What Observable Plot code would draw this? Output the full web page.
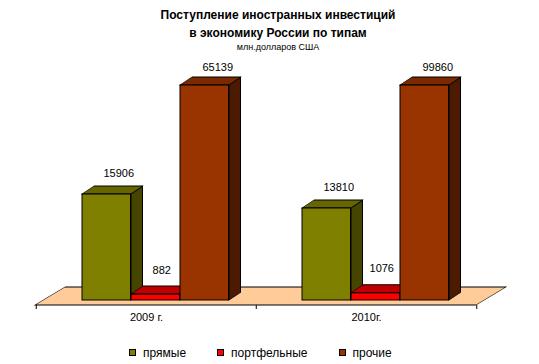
<!DOCTYPE html>
<html>
<head>
<meta charset="utf-8">
<script src="https://cdn.jsdelivr.net/npm/d3@7"></script>
<script src="https://cdn.jsdelivr.net/npm/@observablehq/plot@0.6"></script>
<style>
  body { margin: 0; background: #fff; font-family: "Liberation Sans", Arial, sans-serif; }
  #title { width: 539px; height: 56px; box-sizing: border-box; padding-top: 6px; padding-left: 17px; text-align: center; color: #000; }
  #title .t1 { font-weight: bold; font-size: 12px; line-height: 18px; }
  #title .t2 { font-size: 9px; line-height: 10px; }
  #chart { width: 539px; height: 274px; }
  #legend { width: 539px; height: 34px; box-sizing: border-box; padding-top: 11px; padding-left: 129px; font-size: 12px; line-height: 14px; display: flex; align-items: center; color: #000; }
  #legend .item { display: flex; align-items: center; margin-right: 31px; }
  #legend .sw { width: 7px; height: 7px; box-sizing: border-box; border: 1px solid #000; margin-right: 7px; }
</style>
</head>
<body>
<div id="title">
  <div class="t1">Поступление иностранных инвестиций<br>в экономику России по типам</div>
  <div class="t2">млн.долларов США</div>
</div>
<div id="chart"></div>
<div id="legend"></div>
<script>
// ---- data ----
const years = ["2009 г.", "2010г."];
const types = ["прямые", "портфельные", "прочие"];
const direct = [15906, 13810];
const portfolio = [882, 1076];
const other = [65139, 99860];

// ---- styles ----
const frontColors = ["#808000", "#FF0000", "#993300"];
const topColors = ["#666600", "#C00000", "#7A2900"];
const sideColors = ["#454500", "#900000", "#4C1A00"];
const labelDx = [12, 6, 13];
const labelDy = [-21.5, -24.5, -18.5];

const series = [direct, portfolio, other];
const rows = [];
types.forEach((t, k) => years.forEach((y, i) => rows.push({year: y, type: t, k, value: series[k][i]})));

// ---- layout ----
const W = 539, H = 274;
const mL = 35, mR = 63, mT = 29, mB = 30;
const band = (W - mL - mR) / years.length;
const barOff = 46, barW = 49, depX = 12, depY = 8;

const marks = [];
// floor
marks.push(Plot.frame({fill: "#FFCC99", stroke: "#000", strokeWidth: 1, insetTop: (H - mT - mB) - 13, insetBottom: -5}));
// category boundary ticks
marks.push(Plot.ruleX(years, {x: d => d, dx: -band / 2, insetTop: (H - mT - mB) + 5, insetBottom: -9, stroke: "#000"}));
marks.push(Plot.ruleX(years.slice(-1), {x: d => d, dx: band / 2, insetTop: (H - mT - mB) + 5, insetBottom: -9, stroke: "#000"}));
// side faces (bar groups 0..2)
types.forEach((t, k) => {
  const left = barOff + barW * (k + 1);
  marks.push(Plot.barY(rows.filter(d => d.k === k), {x: "year", y: "value", fill: sideColors[k], stroke: "#000", strokeWidth: 1,
    insetLeft: left, insetRight: band - left - depX}));
});
// top faces (bar groups 3..5)
types.forEach((t, k) => {
  const left = barOff + barW * k;
  marks.push(Plot.barY(rows.filter(d => d.k === k), {x: "year", y1: "value", y2: "value", fill: topColors[k], stroke: "#000", strokeWidth: 1,
    insetLeft: left, insetRight: band - left - barW, insetTop: -depY, insetBottom: 0}));
});
// front faces (bar groups 6..8)
types.forEach((t, k) => {
  const left = barOff + barW * k;
  marks.push(Plot.barY(rows.filter(d => d.k === k), {x: "year", y: "value", fill: frontColors[k], stroke: "#000", strokeWidth: 1,
    insetLeft: left, insetRight: band - left - barW}));
});
// value labels
types.forEach((t, k) => {
  const dx = barOff + barW * k + barW / 2 - band / 2 + labelDx[k];
  marks.push(Plot.text(rows.filter(d => d.k === k), {x: "year", y: "value", text: d => String(d.value), dx, dy: labelDy[k], fill: "#000", fontSize: 11}));
});
marks.push(Plot.axisX({tickSize: 0, tickPadding: 13, fontSize: 11, fill: "#000"}));

const chart = Plot.plot({
  width: W, height: H,
  marginLeft: mL, marginRight: mR, marginTop: mT, marginBottom: mB,
  style: {fontFamily: "'Liberation Sans', Arial, sans-serif", fontSize: "11px", background: "#fff", color: "#000", overflow: "visible"},
  x: {domain: years, padding: 0, label: null},
  y: {domain: [0, 32270], clamp: true, axis: null},
  marks
});

const svg = d3.select(chart);
const deg = r => r * 180 / Math.PI;
const barGroups = svg.selectAll('g[aria-label="bar"]').nodes();
barGroups.forEach((g, gi) => {
  const face = gi < 3 ? "side" : gi < 6 ? "top" : "front";
  d3.select(g).selectAll("rect").attr("transform", function () {
    if (face === "side") {
      const x = +this.getAttribute("x");
      return `translate(${x},0) skewY(${deg(Math.atan(-depY / depX))}) translate(${-x},0)`;
    } else if (face === "top") {
      const y0 = +this.getAttribute("y") + +this.getAttribute("height");
      return `translate(0,${y0}) skewX(${deg(Math.atan(-depX / depY))}) translate(0,${-y0})`;
    }
    return null;
  });
});
svg.selectAll('[aria-label="frame"]').each(function () {
  const r = this.tagName.toLowerCase() === "rect" ? this : this.querySelector("rect");
  const y0 = +r.getAttribute("y") + +r.getAttribute("height");
  const h = +r.getAttribute("height");
  r.setAttribute("transform", `translate(0,${y0}) skewX(${deg(Math.atan(-30 / h))}) translate(0,${-y0})`);
});

document.getElementById("chart").appendChild(chart);

// legend
const legend = d3.select("#legend");
types.forEach((t, k) => {
  const it = legend.append("div").attr("class", "item");
  it.append("div").attr("class", "sw").style("background", frontColors[k]);
  it.append("span").text(t);
});
</script>
</body>
</html>
